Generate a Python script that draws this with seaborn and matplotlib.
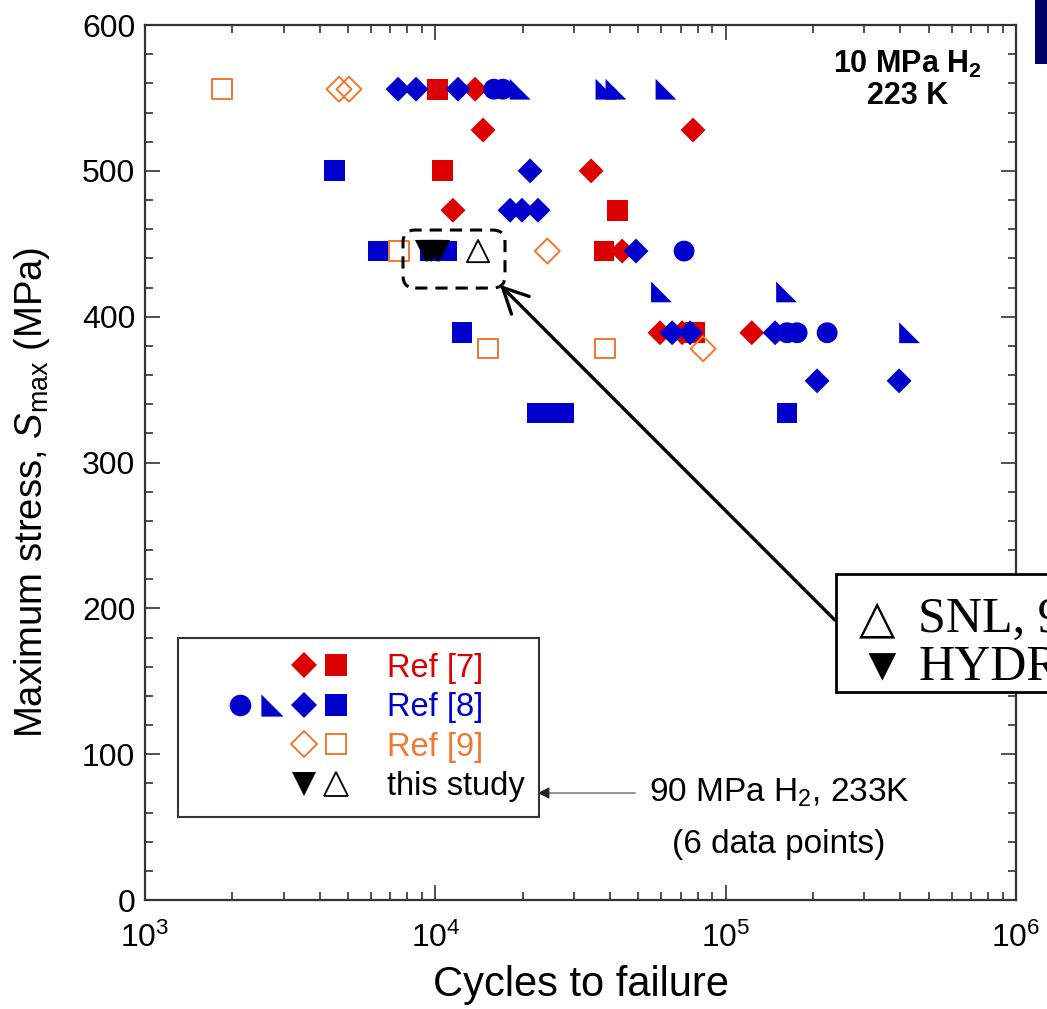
import numpy as np
import matplotlib
matplotlib.use("Agg")
import matplotlib.pyplot as plt
import seaborn as sns
from matplotlib.lines import Line2D
from matplotlib.legend_handler import HandlerTuple
from matplotlib.markers import MarkerStyle
from matplotlib.patches import FancyBboxPatch, Rectangle

# cycles to failure / max stress (MPa)
ref7_diamond_n = [13700, 14600, 77200, 34400, 11500, 44000, 59400, 70800, 123000]
ref7_diamond_s = [556, 528, 528, 500, 473, 445, 389, 389, 389]
ref7_square_n = [10140, 10600, 42300, 38100, 78400]
ref7_square_s = [556, 500, 473, 445, 389]

ref8_circle_n = [15900, 17100, 71900, 162700, 176200, 223600]
ref8_circle_s = [556, 556, 445, 389, 389, 389]
ref8_tri_n = [19600, 38700, 41900, 62300, 60100, 162100, 430000]
ref8_tri_s = [556, 556, 556, 556, 417, 417, 389]
ref8_diamond_n = [7440, 8580, 11970, 21200, 18090, 19890, 22580, 49100,
                  65400, 75400, 148000, 206500, 395700]
ref8_diamond_s = [556, 556, 556, 500, 473, 473, 473, 445,
                  389, 389, 389, 356, 356]
ref8_square_n = [4480, 6350, 9630, 10930, 12360, 22500, 24900, 27700, 162700]
ref8_square_s = [500, 445, 445, 445, 389, 334, 334, 334, 334]

ref9_diamond_n = [4660, 5040, 24300, 83600]
ref9_diamond_s = [556, 556, 445, 378]
ref9_square_n = [1840, 7500, 15190, 38400]
ref9_square_s = [556, 445, 378, 378]

hydro_n = [9290, 9440, 9670, 10140, 10300]
hydro_s = [445, 445, 445, 445, 445]
snl_n = [14030]
snl_s = [445]

RED = "#DD0000"
BLUE = "#0000CC"
ORANGE = "#F07830"

sns.set_style("ticks")
plt.rcParams["font.family"] = ["Liberation Sans", "DejaVu Sans"]
plt.rcParams["mathtext.fontset"] = "custom"
plt.rcParams["mathtext.rm"] = "Liberation Sans"
plt.rcParams["mathtext.it"] = "Liberation Sans:italic"
plt.rcParams["mathtext.bf"] = "Liberation Sans:bold"
for k in ["text.color", "axes.labelcolor", "xtick.labelcolor", "ytick.labelcolor"]:
    plt.rcParams[k] = "black"

fig = plt.figure(figsize=(10.47, 10.09), dpi=100)
ax = fig.add_axes([0.1385, 0.1080, 0.8319, 0.8672])

right_tri = MarkerStyle([(-1, -1), (1, -1), (-1, 1)])
open_sq = MarkerStyle("s", fillstyle="none")
open_dia = MarkerStyle("D", fillstyle="none")
open_tri = MarkerStyle("^", fillstyle="none")

SQ = 15 ** 2
DI = 12.7 ** 2

sns.scatterplot(x=ref7_diamond_n, y=ref7_diamond_s, marker="D", s=DI, color=RED,
                edgecolor="none", linewidth=0, ax=ax, legend=False, zorder=3)
sns.scatterplot(x=ref7_square_n, y=ref7_square_s, marker="s", s=SQ, color=RED,
                edgecolor="none", linewidth=0, ax=ax, legend=False, zorder=3)
sns.scatterplot(x=ref8_square_n, y=ref8_square_s, marker="s", s=SQ, color=BLUE,
                edgecolor="none", linewidth=0, ax=ax, legend=False, zorder=3)
sns.scatterplot(x=ref8_circle_n, y=ref8_circle_s, marker="o", s=SQ, color=BLUE,
                edgecolor="none", linewidth=0, ax=ax, legend=False, zorder=3)
sns.scatterplot(x=ref8_tri_n, y=ref8_tri_s, marker=right_tri, s=SQ, color=BLUE,
                edgecolor="none", linewidth=0, ax=ax, legend=False, zorder=3)
sns.scatterplot(x=ref8_diamond_n, y=ref8_diamond_s, marker="D", s=DI, color=BLUE,
                edgecolor="none", linewidth=0, ax=ax, legend=False, zorder=3)
sns.scatterplot(x=ref9_diamond_n, y=ref9_diamond_s, marker=open_dia, s=DI, color=ORANGE,
                linewidth=1.4, ax=ax, legend=False, zorder=3)
sns.scatterplot(x=ref9_square_n, y=ref9_square_s, marker=open_sq, s=14 ** 2, color=ORANGE,
                linewidth=1.4, ax=ax, legend=False, zorder=3)
sns.scatterplot(x=hydro_n, y=hydro_s, marker="v", s=16 ** 2, color="black",
                edgecolor="none", linewidth=0, ax=ax, legend=False, zorder=4)
sns.scatterplot(x=snl_n, y=snl_s, marker=open_tri, s=16 ** 2, color="black",
                linewidth=1.3, ax=ax, legend=False, zorder=4)

ax.set_xscale("log")
ax.set_xlim(1e3, 1e6)
ax.set_ylim(0, 600)
ax.set_yticks(np.arange(0, 601, 100))
ax.set_yticks(np.arange(0, 601, 20), minor=True)

for sp in ax.spines.values():
    sp.set_linewidth(1.6)
    sp.set_color("#333333")
    sp.set_visible(True)
ax.tick_params(which="both", direction="in", top=True, right=True,
               color="#333333", width=1.2)
ax.tick_params(which="major", length=11, labelsize=23, pad=7)
ax.tick_params(which="minor", length=6)
ax.tick_params(axis="x", which="major", pad=16)

ax.set_xlabel("Cycles to failure", fontsize=30)
ax.set_ylabel(r"Maximum stress, $\mathit{S}_{\rm max}$ (MPa)", fontsize=27.5)
ax.xaxis.set_label_coords(0.5, -0.074)
ax.yaxis.set_label_coords(-0.107, 0.466)

ax.text(0.875, 0.9554, r"10 MPa H$_\mathbf{2}$", transform=ax.transAxes,
        ha="center", va="center", fontsize=22, fontweight="bold")
ax.text(0.875, 0.9189, "223 K", transform=ax.transAxes,
        ha="center", va="center", fontsize=22, fontweight="bold")

# legend: five slots per row, markers right-aligned
blank = Line2D([], [], ls="none", marker=None)
def mk(marker, color, size, **kw):
    return Line2D([], [], ls="none", marker=marker, color=color, markersize=size,
                  markeredgewidth=kw.pop("mew", 0), **kw)

h7 = (blank, blank, blank, mk("D", RED, 13), mk("s", RED, 16))
h8 = (blank, mk("o", BLUE, 15.5), mk(right_tri, BLUE, 16), mk("D", BLUE, 13), mk("s", BLUE, 16))
h9 = (blank, blank, blank,
      mk("D", ORANGE, 13, markerfacecolor="none", mew=1.4),
      mk("s", ORANGE, 15, markerfacecolor="none", mew=1.4))
hs = (blank, blank, blank, mk("v", "black", 17),
      mk("^", "black", 17, markerfacecolor="none", mew=1.3))

leg = ax.legend([h7, h8, h9, hs], ["Ref [7]", "Ref [8]", "Ref [9]", "this study"],
                handler_map={tuple: HandlerTuple(ndivide=None, pad=0)},
                loc="upper left", bbox_to_anchor=(0.038, 0.2995), borderaxespad=0,
                fontsize=23.5, handlelength=4.86, handletextpad=1.08, labelspacing=0.26,
                borderpad=0.45, fancybox=False, framealpha=1,
                labelcolor=[RED, BLUE, ORANGE, "black"])
leg.get_frame().set_edgecolor("#333333")
leg.get_frame().set_linewidth(1.5)
leg.set_zorder(5)

# note for this study
ax.text(0.728, 0.1223, r"90 MPa H$_2$, 233K", transform=ax.transAxes,
        ha="center", va="center", fontsize=24)
ax.text(0.727, 0.063, "(6 data points)", transform=ax.transAxes,
        ha="center", va="center", fontsize=24)
ax.annotate("", xy=(0.451, 0.1223), xytext=(0.563, 0.1223),
            xycoords="axes fraction", textcoords="axes fraction",
            arrowprops=dict(arrowstyle="-|>", color="#222222", lw=0.7,
                            mutation_scale=18, shrinkA=0, shrinkB=0))

# dashed box around this study's points + pointer
box = FancyBboxPatch((0.2962, 0.6994), 0.1171, 0.0663,
                     boxstyle="round,pad=0,rounding_size=0.014",
                     transform=ax.transAxes, fill=False, ec="black", lw=2.2,
                     ls=(0, (4, 2.6)), zorder=6)
ax.add_patch(box)
ax.annotate("", xy=(0.4076, 0.703), xytext=(0.792, 0.32),
            xycoords="axes fraction", textcoords="axes fraction",
            annotation_clip=False,
            arrowprops=dict(arrowstyle="->,head_length=0.9,head_width=0.45",
                            color="black", lw=2.4, mutation_scale=20,
                            shrinkA=0, shrinkB=0))

# slide overlay box (cut at the right edge)
fig.add_artist(Rectangle((0.7985, 0.3142), 0.3, 0.1169, transform=fig.transFigure,
                         facecolor="white", edgecolor="black", lw=2.0, zorder=10,
                         clip_on=False))
fig.add_artist(Rectangle((0.9885, 0.9366), 0.05, 0.07, transform=fig.transFigure,
                         facecolor="#000066", edgecolor="none", zorder=10))
serif = ["Liberation Serif", "DejaVu Sans"]
fig.text(0.820, 0.3736, "△", fontsize=34, va="baseline", ha="left", family=serif, zorder=11)
fig.text(0.877, 0.3736, "SNL, 90 MPa H₂", fontsize=36, va="baseline", ha="left",
         family=serif, zorder=11)
fig.text(0.820, 0.3261, "▼", fontsize=34, va="baseline", ha="left", family=serif, zorder=11)
fig.text(0.877, 0.3261, "HYDROGENIUS", fontsize=36, va="baseline", ha="left",
         family=serif, zorder=11)

fig.savefig("out.png", dpi=100)
